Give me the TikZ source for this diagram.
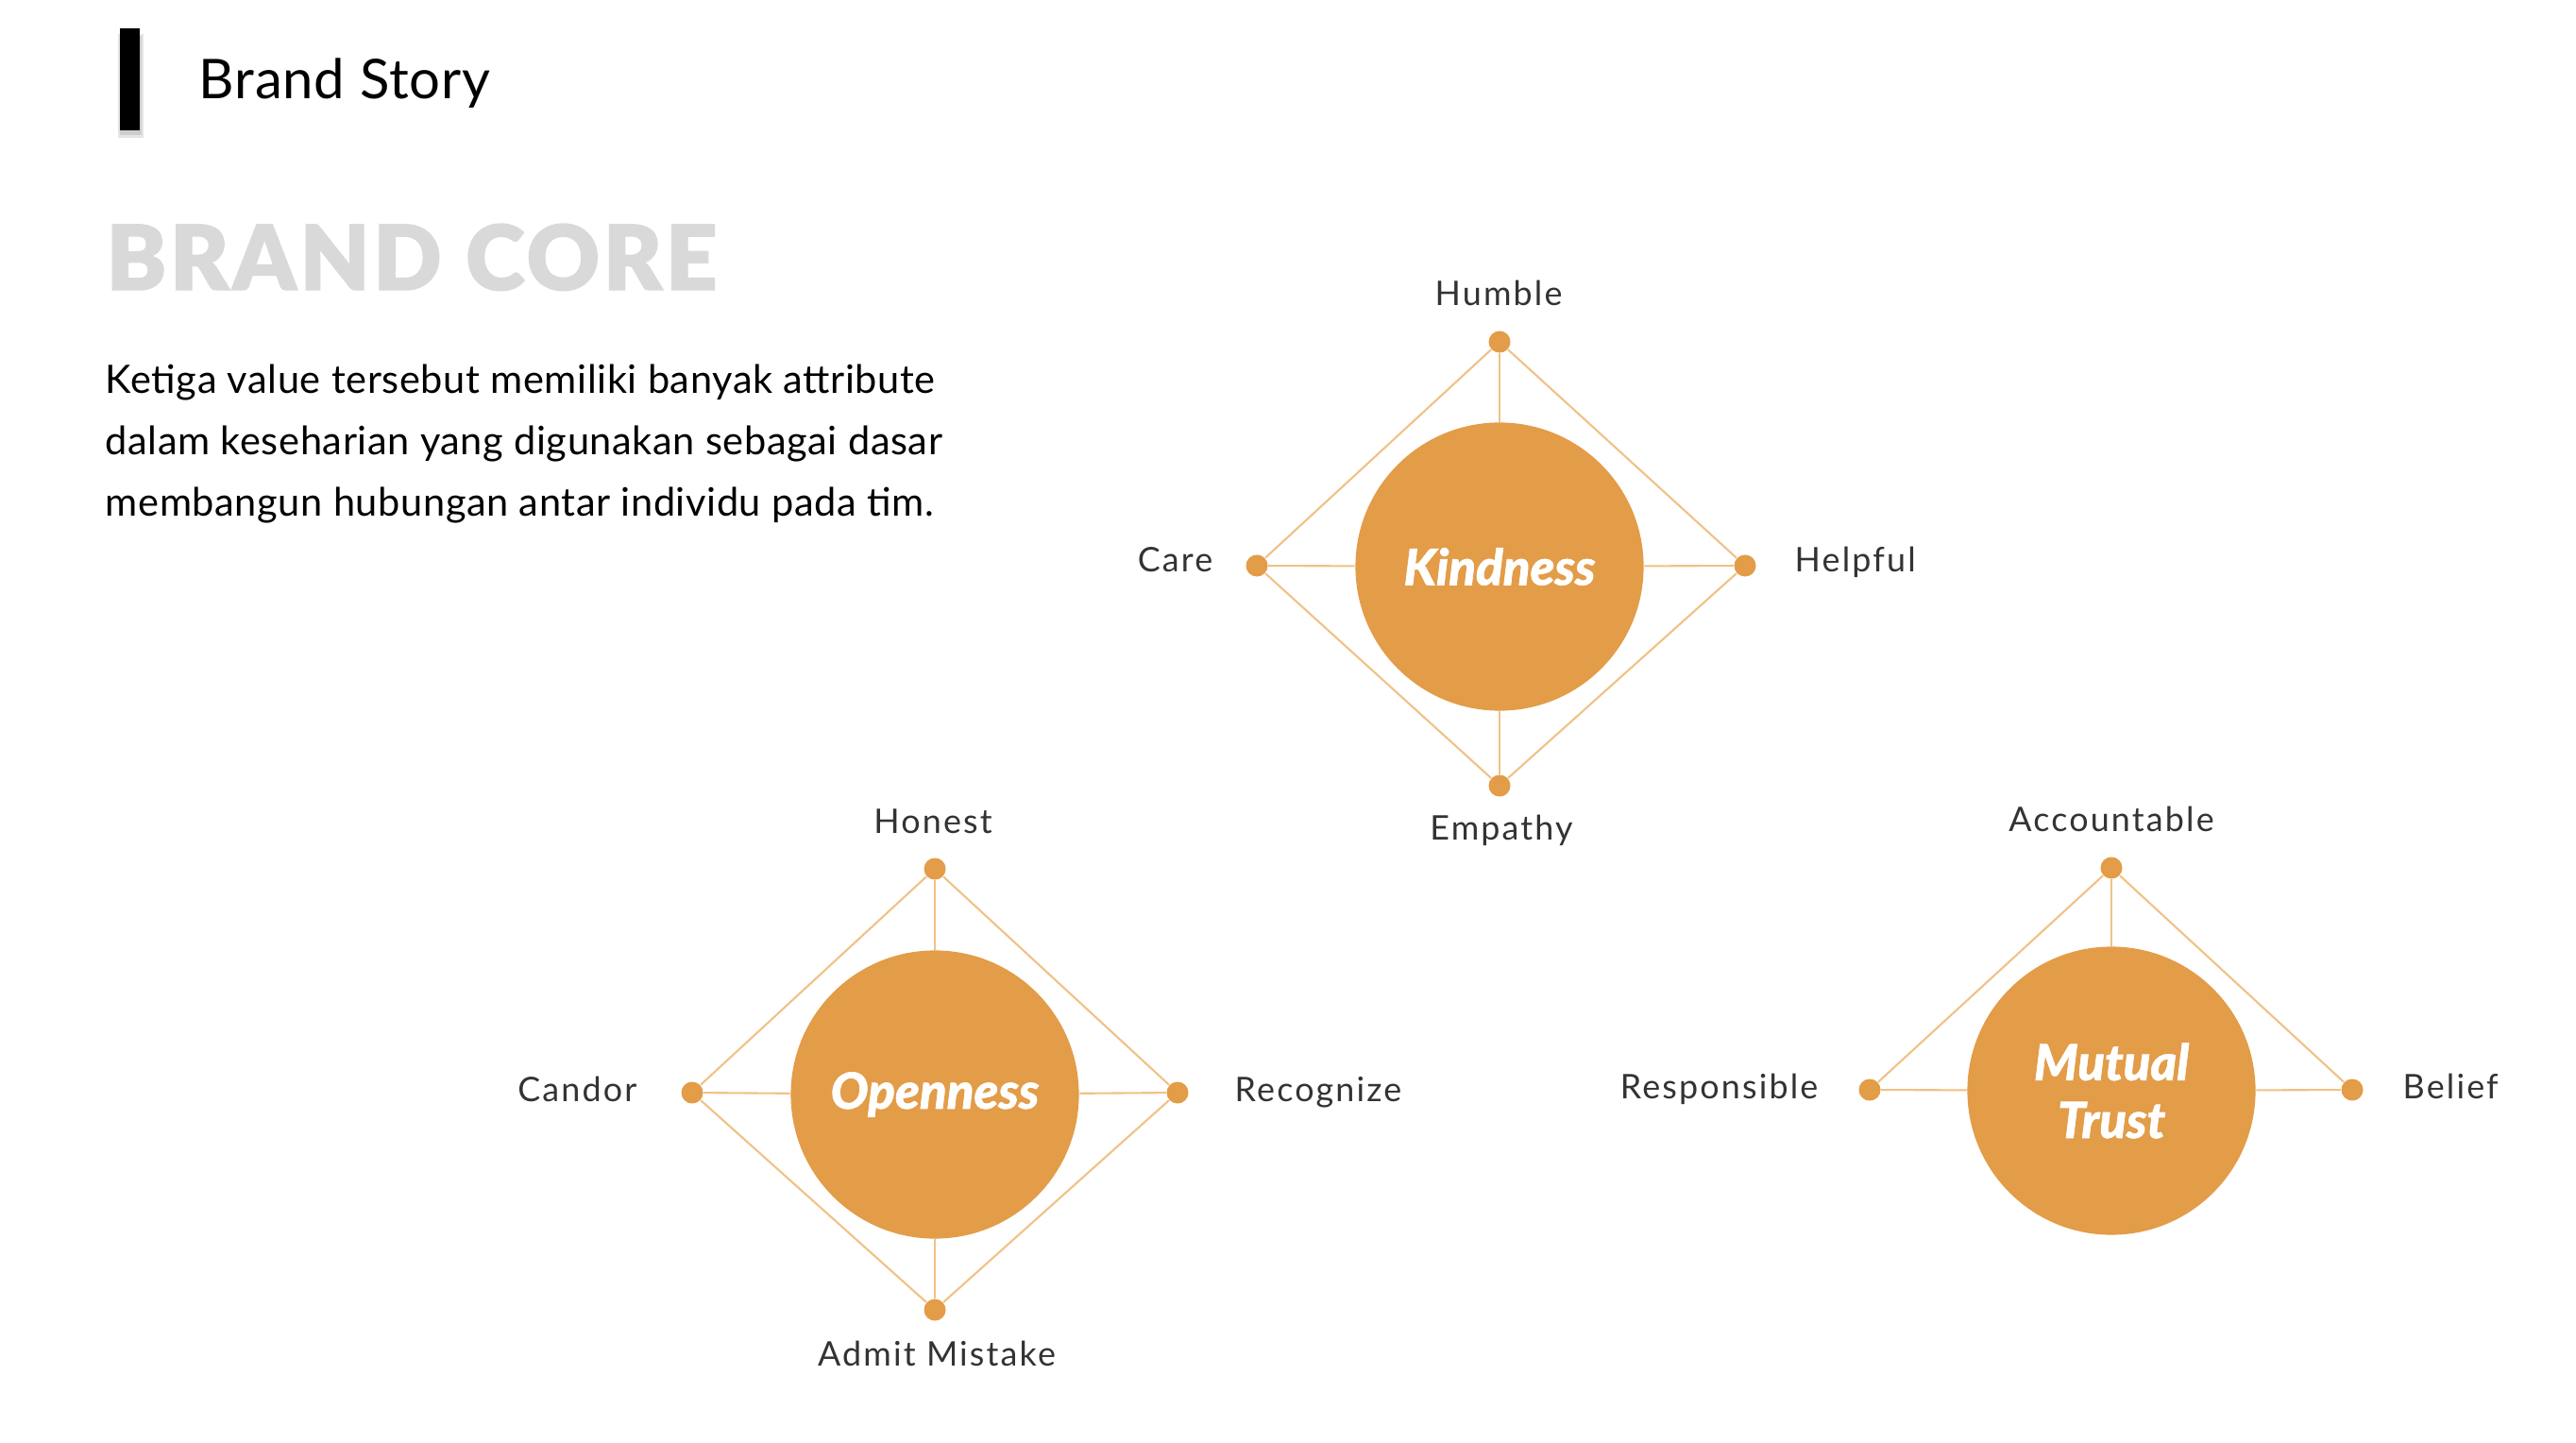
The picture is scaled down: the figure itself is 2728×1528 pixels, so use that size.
\documentclass[tikz,border=0pt]{standalone}
\usepackage{fontspec}
\setmainfont{Lato}
\newfontfamily\heavy{Lato}[UprightFont=* Black, ItalicFont=* Black Italic, BoldFont=* Black, BoldItalicFont=* Black Italic, FakeBold=1.2]
\newfontfamily\lblfont{Lato}[LetterSpace=6]
\newfontfamily\bodyfont{Lato}[LetterSpace=1.5]
\newfontfamily\corefont{Lato}[UprightFont=* Black, ItalicFont=* Black Italic, LetterSpace=4, FakeBold=1.5]
\definecolor{corefill}{HTML}{E39C48}
\definecolor{linecol}{HTML}{F0C287}
\definecolor{labelgray}{HTML}{333333}
\definecolor{titlegray}{HTML}{D9D9D9}
\begin{document}
\begin{tikzpicture}[x=0.01cm,y=-0.01cm,
  core/.style={circle, fill=corefill, minimum size=3.05cm, inner sep=0pt, text=white, align=center,
    font=\heavy\itshape\fontsize{15}{17.4}\selectfont},
  attrdot/.style={circle, fill=corefill, minimum size=0.23cm, inner sep=0pt},
  lbl/.style={text=labelgray, inner sep=0pt, font=\lblfont\fontsize{10.2}{12}\selectfont},
  link/.style={draw=linecol, line width=0.6pt},
  body/.style={anchor=base west, inner sep=0pt, font=\bodyfont\fontsize{11.8}{14}\selectfont}]
\useasboundingbox (0,0) rectangle (2728,1528);
\fill[white] (0,0) rectangle (2728,1528);

% header
\fill[black, opacity=0.10] (125,36) rectangle (152,146);
\fill[black, opacity=0.10] (127,38) rectangle (150,143);
\fill[black] (127,30) rectangle (148,138);
\node[anchor=base west, inner sep=0pt, font=\bodyfont\fontsize{16.5}{19}\selectfont] (title) at (210,105) {Brand Story};
\node[anchor=base west, inner sep=0pt, text=titlegray, font=\corefont\fontsize{27}{30}\selectfont] (core) at (112,307) {BRAND CORE};
\node[body] (l1) at (111,417) {Ketiga value tersebut memiliki banyak attribute};
\node[body] (l2) at (111,482) {dalam keseharian yang digunakan sebagai dasar};
\node[body] (l3) at (111,547) {membangun hubungan antar individu pada tim.};

% Kindness
\node[core] (kind) at (1588,600) {Kindness};
\node[attrdot] (humble) at (1588,362) {};
\node[attrdot] (care) at (1331,599) {};
\node[attrdot] (helpful) at (1848,599) {};
\node[attrdot] (empathy) at (1588,832) {};
\draw[link] (humble) -- (helpful) -- (empathy) -- (care) -- (humble);
\draw[link] (humble) -- (kind);
\draw[link] (care) -- (kind);
\draw[link] (helpful) -- (kind);
\draw[link] (empathy) -- (kind);
\node[lbl, anchor=base] (thumble) at (1587,324) {Humble};
\node[lbl, anchor=base east] (tcare) at (1285,605) {Care};
\node[lbl, anchor=base west] (thelpful) at (1900,605) {Helpful};
\node[lbl, anchor=base] (tempathy) at (1590,889) {Empathy};

% Openness
\node[core] (open) at (990,1159) {Openness};
\node[attrdot] (honest) at (990,920) {};
\node[attrdot] (candor) at (733,1157) {};
\node[attrdot] (recog) at (1247,1157) {};
\node[attrdot] (admit) at (990,1387) {};
\draw[link] (honest) -- (recog) -- (admit) -- (candor) -- (honest);
\draw[link] (honest) -- (open);
\draw[link] (candor) -- (open);
\draw[link] (recog) -- (open);
\draw[link] (admit) -- (open);
\node[lbl, anchor=base] (thonest) at (988,882) {Honest};
\node[lbl, anchor=base east] (tcandor) at (675,1166) {Candor};
\node[lbl, anchor=base west] (trecog) at (1307,1166) {Recognize};
\node[lbl, anchor=base] (tadmit) at (992,1446) {Admit Mistake};

% Mutual Trust
\node[core] (trust) at (2236,1155) {Mutual\\Trust};
\node[attrdot] (account) at (2236,919) {};
\node[attrdot] (respons) at (1980,1154) {};
\node[attrdot] (belief) at (2491,1154) {};
\draw[link] (respons) -- (account) -- (belief);
\draw[link] (account) -- (trust);
\draw[link] (respons) -- (trust);
\draw[link] (belief) -- (trust);
\node[lbl, anchor=base] (taccount) at (2236,880) {Accountable};
\node[lbl, anchor=base east] (trespons) at (1926,1163) {Responsible};
\node[lbl, anchor=base west] (tbelief) at (2544,1163) {Belief};
\end{tikzpicture}
\end{document}
